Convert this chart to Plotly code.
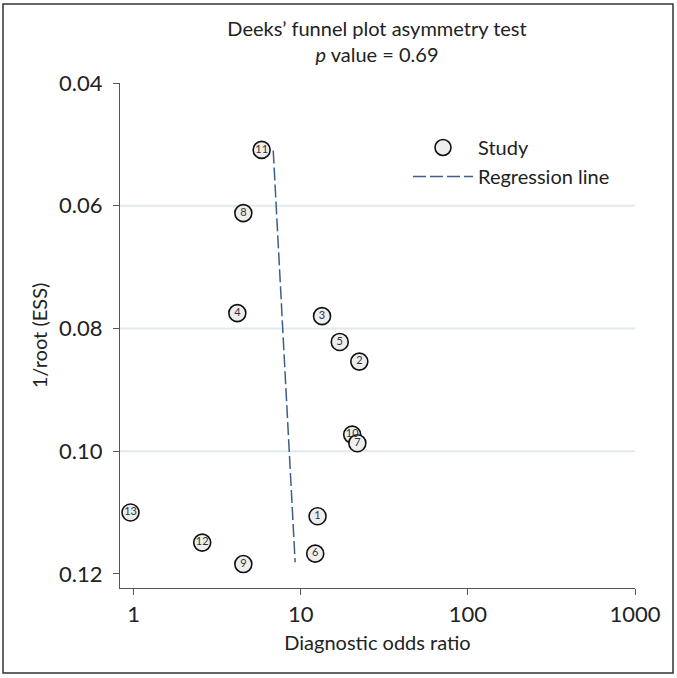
import plotly.graph_objects as go

# Study data
study_ids = ["11", "8", "4", "3", "5", "2", "10", "7", "13", "1", "12", "6", "9"]
dor = [5.83, 4.53, 4.17, 13.4, 17.1, 22.4, 20.3, 21.8, 0.957, 12.6, 2.57, 12.2, 4.53]
inv_root_ess = [0.0509, 0.0612, 0.0775, 0.0780, 0.0822, 0.0854, 0.0973, 0.0987,
                0.1100, 0.1106, 0.1149, 0.1167, 0.1184]

# Regression line end points
reg_x = [6.84, 9.25]
reg_y = [0.0510, 0.1181]

x_ticks = [1, 10, 100, 1000]
y_ticks = [0.04, 0.06, 0.08, 0.10, 0.12]
y_tick_text = ["0.04", "0.06", "0.08", "0.10", "0.12"]
grid_vals = [0.06, 0.08, 0.10]

FONT = "Lato"
W, H = 677, 678
L, R, T, B = 120, 42, 83, 90
pw, ph = W - L - R, H - T - B

fig = go.Figure()

fig.add_trace(go.Scatter(
    x=reg_x, y=reg_y, mode="lines", name="Regression line",
    line=dict(color="#3d5f86", width=1.5, dash="13px,4px"),
))
fig.add_trace(go.Scatter(
    x=dor, y=inv_root_ess, mode="markers", name="Study",
    marker=dict(size=17, color="#eeeeee", line=dict(color="#111111", width=1.6)),
))
fig.add_trace(go.Scatter(
    x=dor, y=inv_root_ess, mode="text", text=study_ids, showlegend=False,
    textfont=dict(family=FONT, size=11, color="#333333"),
    textposition="middle center", hoverinfo="skip",
))

shapes = []
for g in grid_vals:
    shapes.append(dict(type="line", xref="paper", yref="y", x0=0, x1=1, y0=g, y1=g,
                       line=dict(color="#e0e9ee", width=2), layer="below"))
# outer frame
shapes.append(dict(type="rect", xref="paper", yref="paper",
                   x0=(3 - L) / pw, x1=(673 - L) / pw,
                   y0=(H - B - 673) / ph, y1=(H - B - 4) / ph,
                   line=dict(color="#333333", width=1.5)))

fig.update_layout(
    width=W, height=H,
    margin=dict(l=L, r=R, t=T, b=B),
    paper_bgcolor="white", plot_bgcolor="white",
    font=dict(family=FONT, size=20, color="#222222"),
    title=dict(text="Deeks’ funnel plot asymmetry test<br><i>p</i> value = 0.69",
               x=377 / W, xanchor="center", y=1 - 36 / H, yanchor="top",
               font=dict(family=FONT, size=20, color="#222222")),
    showlegend=True,
    legend=dict(x=(408 - L) / pw, y=(H - B - 128) / ph, xanchor="left", yanchor="top",
                bgcolor="rgba(0,0,0,0)", itemwidth=60, traceorder="reversed",
                tracegroupgap=0,
                font=dict(family=FONT, size=20, color="#222222")),
    shapes=shapes,
)

fig.update_xaxes(
    type="log", range=[-0.082, 3.0], tickvals=x_ticks, ticktext=[str(v) for v in x_ticks],
    showgrid=False, zeroline=False, showline=True, linecolor="#555555", linewidth=1.2,
    ticks="outside", ticklen=6, tickcolor="#555555", ticklabelstandoff=0,
    title=dict(text="Diagnostic odds ratio", font=dict(family=FONT, size=20), standoff=10),
    tickfont=dict(family=FONT, size=22),
)
fig.update_yaxes(
    range=[0.1223, 0.04], tickvals=y_ticks, ticktext=y_tick_text,
    showgrid=False, zeroline=False, showline=True, linecolor="#555555", linewidth=1.2,
    ticks="outside", ticklen=6, tickcolor="#555555", ticklabelstandoff=6,
    title=dict(text="1/root (ESS)", font=dict(family=FONT, size=20), standoff=6),
    tickfont=dict(family=FONT, size=22),
)

fig.write_html("out.html", config={"displayModeBar": False},
               post_script="document.body.style.margin='0px';")
